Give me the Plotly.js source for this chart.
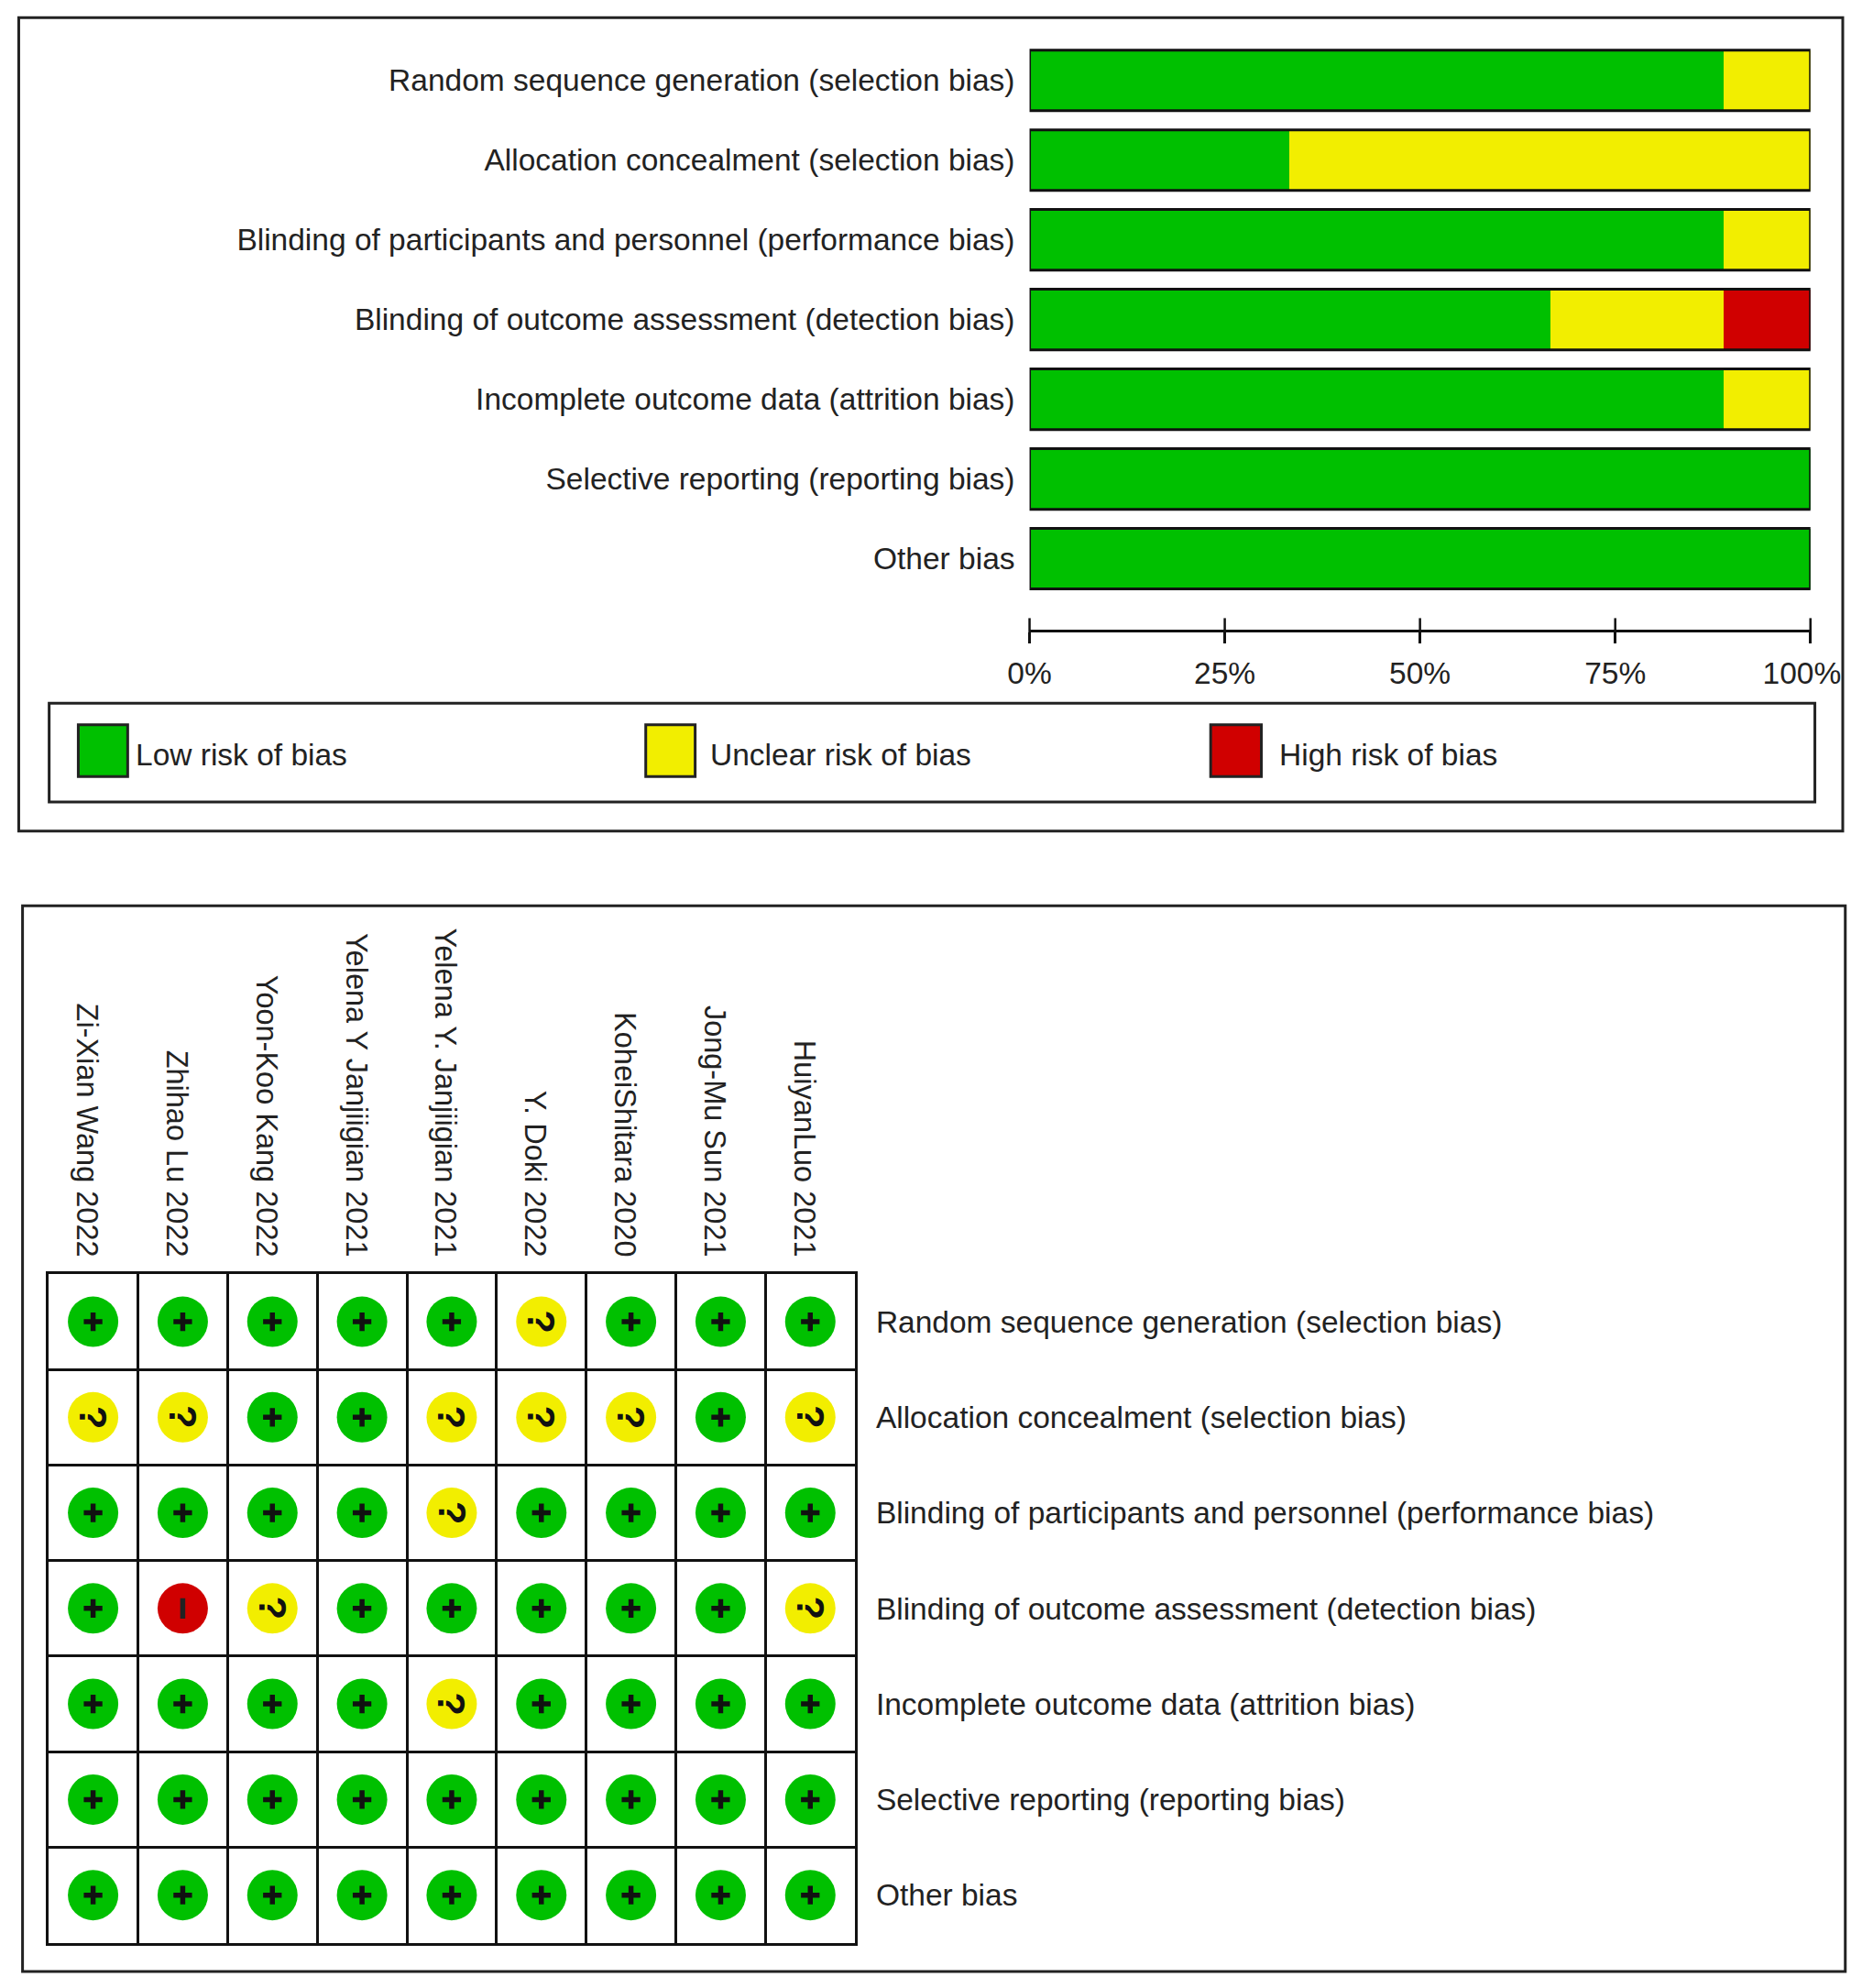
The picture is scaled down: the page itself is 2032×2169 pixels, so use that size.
<!DOCTYPE html>
<html><head><meta charset="utf-8">
<script src="https://cdn.plot.ly/plotly-3.0.1.min.js"></script>
<style>html,body{margin:0;padding:0;background:#fff}</style></head>
<body><div id="chart" style="width:2032px;height:2169px"></div>
<script>
const domains = ["Random sequence generation (selection bias)","Allocation concealment (selection bias)","Blinding of participants and personnel (performance bias)","Blinding of outcome assessment (detection bias)","Incomplete outcome data (attrition bias)","Selective reporting (reporting bias)","Other bias"];
const lowPct     = [88.9,33.3,88.9,66.7,88.9,100,100];
const unclearPct = [11.1,66.7,11.1,22.2,11.1,0,0];
const highPct    = [0,0,0,11.1,0,0,0];
const pctTicks = [0,25,50,75,100];
const pctLabels = ["0%","25%","50%","75%","100%\u00a0\u00a0"];
const studies = ["Zi-Xian Wang 2022","Zhihao Lu 2022","Yoon-Koo Kang 2022","Yelena Y Janjiigian 2021","Yelena Y. Janjiigian 2021","Y. Doki 2022","KoheiShitara 2020","Jong-Mu Sun 2021","HuiyanLuo 2021"];
const judgeRandom  = ["+","+","+","+","+","?","+","+","+"];
const judgeAlloc   = ["?","?","+","+","?","?","?","+","?"];
const judgeBlindP  = ["+","+","+","+","?","+","+","+","+"];
const judgeBlindO  = ["+","-","?","+","+","+","+","+","?"];
const judgeAttr    = ["+","+","+","+","?","+","+","+","+"];
const judgeSelect  = ["+","+","+","+","+","+","+","+","+"];
const judgeOther   = ["+","+","+","+","+","+","+","+","+"];
const legendLabels = ["Low risk of bias","Unclear risk of bias","High risk of bias"];
const GREEN="#00c000",YEL="#f2ee00",RED="#d00000",INK="#111",TXT="#222";
const FONT="Liberation Sans",FS=33.5;
const W=2032,H=2169,S=2032/1470;
const fx=d=>(d+0.8)*S/W, fy=d=>1-d*S/H;
const judgments=[judgeRandom,judgeAlloc,judgeBlindP,judgeBlindO,judgeAttr,judgeSelect,judgeOther];

function cells(mark){const xs=[],ys=[];judgments.forEach((row,r)=>row.forEach((v,c)=>{if(v===mark){xs.push(c);ys.push(r);}}));return {xs,ys};}
const cPlus=cells("+"),cQ=cells("?"),cMinus=cells("-");
const yIdx=domains.map((_,i)=>i);
const axisBottom=6+(497-441)/62.9;
const xIdx=studies.map((_,i)=>i);

const traces=[
 {type:"bar",orientation:"h",name:legendLabels[0],y:yIdx,x:lowPct,marker:{color:GREEN,line:{width:0}},width:0.76,xaxis:"x",yaxis:"y"},
 {type:"bar",orientation:"h",name:legendLabels[1],y:yIdx,x:unclearPct,marker:{color:YEL,line:{width:0}},width:0.76,xaxis:"x",yaxis:"y"},
 {type:"bar",orientation:"h",name:legendLabels[2],y:yIdx,x:highPct,marker:{color:RED,line:{width:0}},width:0.76,xaxis:"x",yaxis:"y"},
 {type:"scatter",mode:"markers",x:pctTicks,y:pctTicks.map(()=>axisBottom),cliponaxis:false,marker:{symbol:"line-ns",size:18,line:{color:INK,width:2.5}},xaxis:"x",yaxis:"y",hoverinfo:"skip"},
 {type:"scatter",mode:"markers",x:cPlus.xs,y:cPlus.ys,marker:{size:55,color:GREEN},xaxis:"x2",yaxis:"y2"},
 {type:"scatter",mode:"markers",x:cQ.xs,y:cQ.ys,marker:{size:55,color:YEL},xaxis:"x2",yaxis:"y2"},
 {type:"scatter",mode:"markers",x:cMinus.xs,y:cMinus.ys,marker:{size:55,color:RED},xaxis:"x2",yaxis:"y2"},
 {type:"scatter",mode:"markers",x:cPlus.xs,y:cPlus.ys,marker:{symbol:"cross-thin",size:14.5,line:{color:"#111",width:5.5}},xaxis:"x2",yaxis:"y2",hoverinfo:"skip"},
 {type:"scatter",mode:"markers",x:cMinus.xs,y:cMinus.ys,marker:{symbol:"line-ns",size:16,line:{color:"#222",width:5.5}},xaxis:"x2",yaxis:"y2",hoverinfo:"skip"}
];

const box=(x0,y0,x1,y1,extra)=>Object.assign({type:"rect",xref:"paper",yref:"paper",x0:fx(x0),x1:fx(x1),y0:fy(y0),y1:fy(y1),line:{color:"#222",width:3},layer:"below"},extra||{});
const shapes=[
 box(14,14,1454,656),
 box(38,555,1432,633),
 box(17,715,1456,1556),
 box(61,572,100,613,{fillcolor:GREEN,layer:"above"}),
 box(509,572,548,613,{fillcolor:YEL,layer:"above"}),
 box(955,572,995,613,{fillcolor:RED,layer:"above"})
];
yIdx.forEach(i=>shapes.push({type:"rect",xref:"x",yref:"y",x0:0,x1:100,y0:i-0.38,y1:i+0.38,line:{color:"#111",width:3},layer:"above"}));

const annotations=[];
[[105,0],[558.5,1],[1008,2]].forEach(([x,i])=>annotations.push({xref:"paper",yref:"paper",x:fx(x),y:fy(595.5),xanchor:"left",yanchor:"middle",text:legendLabels[i],showarrow:false,font:{family:FONT,size:FS,color:TXT}}));
cQ.xs.forEach((x,i)=>annotations.push({xref:"x2",yref:"y2",x:x,y:cQ.ys[i],text:"<b>?</b>",textangle:90,showarrow:false,font:{family:FONT,size:42,color:"#111"}}));

const layout={width:W,height:H,margin:{l:0,r:0,t:0,b:0},paper_bgcolor:"#fff",plot_bgcolor:"rgba(0,0,0,0)",showlegend:false,barmode:"stack",bargap:0.24,
 font:{family:FONT,size:FS,color:TXT},
 xaxis:{domain:[fx(812),fx(1428.5)],range:[0,100],tickmode:"array",tickvals:pctTicks,ticktext:pctLabels,ticks:"outside",ticklen:12,tickwidth:2.5,tickcolor:INK,showline:true,linecolor:INK,linewidth:3,showgrid:false,zeroline:false,anchor:"y",ticklabelstandoff:4,tickfont:{family:FONT,size:FS,color:TXT}},
 yaxis:{domain:[fy(497),fy(32)],range:[axisBottom,-0.5],tickmode:"array",tickvals:yIdx,ticktext:domains,ticks:"",showgrid:false,zeroline:false,showline:false,anchor:"x",ticklabelstandoff:15,tickfont:{family:FONT,size:FS,color:TXT}},
 xaxis2:{domain:[fx(37.3),fx(674.3)],range:[-0.5,8.5],side:"top",tickmode:"array",tickvals:xIdx,ticktext:studies,tickangle:90,ticks:"",ticklabelstandoff:4,ticklabelshift:-7,showgrid:false,zeroline:false,anchor:"y2",showline:true,mirror:true,linecolor:INK,linewidth:3,
   minor:{tickmode:"array",tickvals:[-0.5,0.5,1.5,2.5,3.5,4.5,5.5,6.5,7.5,8.5],showgrid:true,gridcolor:INK,gridwidth:3,ticks:""},tickfont:{family:FONT,size:32.5,color:TXT}},
 yaxis2:{domain:[fy(1533.5),fy(1005.5)],range:[6.5,-0.5],side:"right",tickmode:"array",tickvals:yIdx,ticktext:domains,ticks:"",ticklabelstandoff:13,showgrid:false,zeroline:false,anchor:"x2",showline:true,mirror:true,linecolor:INK,linewidth:3,
   minor:{tickmode:"array",tickvals:[-0.5,0.5,1.5,2.5,3.5,4.5,5.5,6.5],showgrid:true,gridcolor:INK,gridwidth:3,ticks:""},tickfont:{family:FONT,size:FS,color:TXT}},
 shapes,annotations
};
Plotly.newPlot("chart",traces,layout,{displayModeBar:false,responsive:false});
</script></body></html>
